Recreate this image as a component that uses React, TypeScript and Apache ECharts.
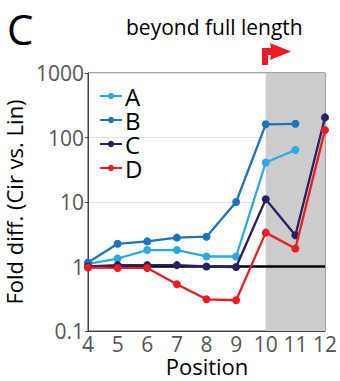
import React, { useEffect, useRef } from "react";
import * as echarts from "echarts";

const positions = [4, 5, 6, 7, 8, 9, 10, 11, 12];
const seriesNames = ["A", "B", "C", "D"];
const valuesA = [1.1, 1.33, 1.8, 1.8, 1.43, 1.43, 41, 64, null];
const valuesB = [1.15, 2.25, 2.45, 2.8, 2.9, 10, 160, 163, null];
const valuesC = [1.0, 1.05, 1.05, 1.05, 1.0, 0.98, 11, 3.05, 205];
const valuesD = [0.96, 0.95, 0.95, 0.53, 0.31, 0.3, 3.35, 1.9, 130];
const colors = ["#29abe2", "#1b75bb", "#262261", "#ed1c24"];
const yTicks = [0.1, 1, 10, 100, 1000];
const shadedRange = [10, 12];
const FONT = "Open Sans";

export default function App() {
  const ref = useRef<HTMLDivElement>(null);
  useEffect(() => {
    if (!ref.current) return;
    const chart = echarts.init(ref.current, null, { renderer: "svg" });
    const all = [valuesA, valuesB, valuesC, valuesD];
    const lineSeries = all.map((vals, i) => ({
      name: seriesNames[i],
      type: "line",
      data: positions.map((p, j) => [p, vals[j]]),
      symbol: "circle",
      symbolSize: 8,
      showSymbol: true,
      connectNulls: false,
      z: 3 + i,
      lineStyle: { color: colors[i], width: 2.3 },
      itemStyle: { color: colors[i] },
    }));
    chart.setOption({
      animation: false,
      grid: {
        left: 88,
        right: 15,
        top: 73,
        bottom: 50,
        show: true,
        borderColor: "#444",
        borderWidth: 1,
        containLabel: false,
        outerBoundsMode: "none",
      },
      legend: {
        left: 99,
        top: 84,
        orient: "vertical",
        itemWidth: 22,
        itemHeight: 8,
        itemGap: 0,
        padding: 0,
        data: seriesNames,
        textStyle: { fontSize: 24, fontFamily: FONT, color: "#000", lineHeight: 24, padding: [0, 0, 0, -2] },
      },
      xAxis: {
        type: "value",
        min: 4,
        max: 12,
        interval: 1,
        axisLine: { show: true, lineStyle: { color: "#444", width: 1 } },
        axisTick: { show: false },
        axisLabel: { fontSize: 21, fontFamily: FONT, color: "#555", margin: 2 },
        splitLine: { show: false },
      },
      yAxis: {
        type: "log",
        logBase: 10,
        min: yTicks[0],
        max: yTicks[yTicks.length - 1],
        name: "Fold diff. (Cir vs. Lin)",
        nameLocation: "middle",
        nameGap: 61,
        nameTextStyle: { fontSize: 22, fontFamily: FONT, color: "#000" },
        axisLine: { show: true, lineStyle: { color: "#444", width: 1 } },
        axisTick: { show: true, length: 3, lineStyle: { color: "#444" } },
        axisLabel: {
          fontSize: 21,
          fontFamily: FONT,
          color: "#555",
          margin: 4,
          formatter: (v: number) => String(Number(v.toPrecision(3))),
        },
        splitLine: { show: true, lineStyle: { color: "#e3e3e3", width: 1 } },
      },
      graphic: [
        { type: "text", left: 7, top: 7, style: { text: "C", fontSize: 42, fontFamily: FONT, fill: "#000" } },
        { type: "text", left: 126, top: 16, style: { text: "beyond full length", fontSize: 21, fontFamily: FONT, fill: "#000" } },
        {
          type: "text",
          x: 207,
          y: 355,
          style: { text: "Position", fontSize: 22, fontFamily: FONT, fill: "#000", align: "center", verticalAlign: "top" },
        },
        {
          type: "polygon",
          shape: {
            points: [
              [262, 65], [262, 48], [271, 48], [270, 43], [291, 51.5], [270, 60], [271, 55], [268, 55], [268, 65],
            ],
          },
          style: { fill: "#ed1c24" },
        },
      ],
      series: [
        {
          name: "_bg",
          type: "line",
          data: [],
          z: 1,
          markArea: {
            silent: true,
            itemStyle: { color: "#cccccc" },
            data: [[{ xAxis: shadedRange[0] }, { xAxis: shadedRange[1] }]],
          },
          markLine: {
            silent: true,
            symbol: "none",
            label: { show: false },
            lineStyle: { color: "#000", width: 2.6, type: "solid" },
            data: [{ yAxis: 1 }],
          },
        },
        ...lineSeries,
      ],
    });
    return () => chart.dispose();
  }, []);
  return <div ref={ref} style={{ width: 340, height: 381, position: "absolute", left: 0, top: 0 }} />;
}
